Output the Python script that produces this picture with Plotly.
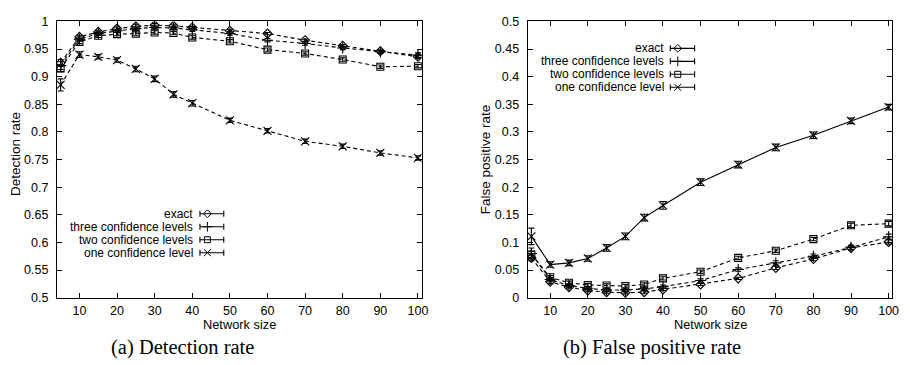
import plotly.graph_objects as go

# ---------------- data ----------------
sizes = [5, 10, 15, 20, 25, 30, 35, 40, 50, 60, 70, 80, 90, 100]
series_names = ["exact", "three confidence levels", "two confidence levels", "one confidence level"]

det_exact = [0.925, 0.972, 0.981, 0.987, 0.991, 0.993, 0.992, 0.989, 0.983, 0.978, 0.966, 0.956, 0.946, 0.936]
det_three = [0.920, 0.968, 0.978, 0.983, 0.987, 0.989, 0.988, 0.985, 0.978, 0.966, 0.960, 0.952, 0.945, 0.939]
det_two = [0.915, 0.963, 0.974, 0.977, 0.978, 0.980, 0.979, 0.971, 0.964, 0.949, 0.942, 0.931, 0.918, 0.919]
det_one = [0.885, 0.940, 0.936, 0.930, 0.914, 0.896, 0.868, 0.852, 0.821, 0.802, 0.783, 0.774, 0.762, 0.753]

det_exact_err = [0.006, 0.003, 0.003, 0.003, 0.003, 0.003, 0.003, 0.002, 0.002, 0.002, 0.002, 0.002, 0.002, 0.003]
det_three_err = [0.007, 0.004, 0.003, 0.003, 0.003, 0.003, 0.003, 0.003, 0.003, 0.003, 0.003, 0.003, 0.003, 0.004]
det_two_err = [0.006, 0.003, 0.003, 0.003, 0.003, 0.003, 0.003, 0.003, 0.003, 0.003, 0.003, 0.003, 0.003, 0.003]
det_one_err = [0.011, 0.005, 0.004, 0.004, 0.005, 0.005, 0.005, 0.005, 0.004, 0.004, 0.004, 0.004, 0.004, 0.004]

fp_exact = [0.072, 0.029, 0.019, 0.013, 0.010, 0.009, 0.010, 0.015, 0.024, 0.035, 0.054, 0.070, 0.090, 0.101]
fp_three = [0.080, 0.033, 0.022, 0.017, 0.014, 0.014, 0.016, 0.020, 0.031, 0.051, 0.063, 0.075, 0.091, 0.110]
fp_two = [0.078, 0.037, 0.027, 0.023, 0.022, 0.021, 0.024, 0.035, 0.047, 0.072, 0.085, 0.106, 0.131, 0.134]
fp_one = [0.111, 0.060, 0.063, 0.071, 0.090, 0.111, 0.145, 0.167, 0.209, 0.241, 0.272, 0.294, 0.320, 0.345]

fp_exact_err = [0.005, 0.003, 0.002, 0.002, 0.002, 0.002, 0.002, 0.002, 0.002, 0.002, 0.003, 0.003, 0.003, 0.004]
fp_three_err = [0.010, 0.003, 0.003, 0.003, 0.003, 0.003, 0.003, 0.003, 0.003, 0.003, 0.004, 0.004, 0.004, 0.005]
fp_two_err = [0.006, 0.003, 0.003, 0.003, 0.003, 0.003, 0.003, 0.003, 0.003, 0.003, 0.003, 0.003, 0.004, 0.004]
fp_one_err = [0.015, 0.005, 0.005, 0.005, 0.006, 0.006, 0.006, 0.007, 0.006, 0.006, 0.006, 0.006, 0.005, 0.005]

x_ticks = [10, 20, 30, 40, 50, 60, 70, 80, 90, 100]
det_ticks = [0.5, 0.55, 0.6, 0.65, 0.7, 0.75, 0.8, 0.85, 0.9, 0.95, 1.0]
det_tick_text = ["0.5", "0.55", "0.6", "0.65", "0.7", "0.75", "0.8", "0.85", "0.9", "0.95", "1"]
fp_ticks = [0, 0.05, 0.1, 0.15, 0.2, 0.25, 0.3, 0.35, 0.4, 0.45, 0.5]
fp_tick_text = ["0", "0.05", "0.1", "0.15", "0.2", "0.25", "0.3", "0.35", "0.4", "0.45", "0.5"]

# ---------------- style ----------------
W, H = 910, 365
SANS = "Liberation Sans, Arial, Helvetica, sans-serif"
SERIF = "Liberation Serif, Times New Roman, serif"
symbols = ["diamond-open", "cross-thin-open", "square-open", "x-thin-open"]
msizes = [7, 8, 7, 8]
left_dash = ["4px,3px", "4px,3px", "4px,3px", "4px,3px"]
right_dash = ["4px,3px", "4px,3px", "4px,3px", "solid"]

fig = go.Figure()


def add_series(xa, ya, ys, errs, dashes):
    for i in range(4):
        fig.add_trace(go.Scatter(
            x=sizes, y=ys[i], mode="lines+markers", xaxis=xa, yaxis=ya,
            name=series_names[i], showlegend=False,
            line=dict(color="black", width=1.1, dash=dashes[i]),
            marker=dict(symbol=symbols[i], size=msizes[i], color="black",
                        line=dict(color="black", width=1.1)),
            error_y=dict(type="data", array=errs[i], visible=True,
                         color="black", thickness=1.1, width=3),
        ))


add_series("x", "y", [det_exact, det_three, det_two, det_one],
           [det_exact_err, det_three_err, det_two_err, det_one_err], left_dash)
add_series("x2", "y2", [fp_exact, fp_three, fp_two, fp_one],
           [fp_exact_err, fp_three_err, fp_two_err, fp_one_err], right_dash)

# ---------------- manual gnuplot-style keys (pixel coordinates on aux axes) ----------------
key_layout = [
    dict(text_x=195, cap_l=201.5, mark_x=209, cap_r=225.5, y0=215, dy=13.5),
    dict(text_x=670, cap_l=675.5, mark_x=683, cap_r=700, y0=43, dy=13.5),
]
annotations = []
for k in key_layout:
    for i in range(4):
        yy = k["y0"] + i * k["dy"]
        fig.add_trace(go.Scatter(
            x=[k["mark_x"]], y=[yy], mode="markers", xaxis="x3", yaxis="y3",
            showlegend=False, hoverinfo="skip",
            marker=dict(symbol=symbols[i], size=msizes[i] - 1, color="black",
                        line=dict(color="black", width=1)),
            error_x=dict(type="data", symmetric=False,
                         array=[k["cap_r"] - k["mark_x"]],
                         arrayminus=[k["mark_x"] - k["cap_l"]],
                         color="black", thickness=1.1, width=3),
        ))
        annotations.append(dict(x=k["text_x"], y=yy, xref="x3", yref="y3",
                                text=series_names[i], showarrow=False,
                                xanchor="right", yanchor="middle", borderpad=0,
                                font=dict(family=SANS, size=12, color="black")))

annotations += [
    dict(x=15, y=153, xref="x3", yref="y3", text="Detection rate", textangle=-90,
         showarrow=False, font=dict(family=SANS, size=13.5, color="black")),
    dict(x=490, y=158, xref="x3", yref="y3", text="False positive rate", textangle=-90,
         showarrow=False, font=dict(family=SANS, size=13.5, color="black")),
    dict(x=241, y=330, xref="x3", yref="y3", text="Network size",
         showarrow=False, font=dict(family=SANS, size=12.8, color="black")),
    dict(x=715.5, y=330, xref="x3", yref="y3", text="Network size",
         showarrow=False, font=dict(family=SANS, size=12.8, color="black")),
    dict(x=183.5, y=354, xref="x3", yref="y3", text="(a) Detection rate",
         showarrow=False, font=dict(family=SERIF, size=20.5, color="black")),
    dict(x=657, y=354, xref="x3", yref="y3", text="(b) False positive rate",
         showarrow=False, font=dict(family=SERIF, size=20.5, color="black")),
]

ydom = [1 - 302.3 / H, 1 - 15 / H]
common_axis = dict(showline=True, linecolor="black", linewidth=1, mirror="allticks",
                   ticks="inside", ticklen=5, tickwidth=1, tickcolor="black",
                   showgrid=False, zeroline=False, ticklabeloverflow="allow",
                   tickfont=dict(family=SANS, size=12.5, color="black"))

fig.update_layout(
    width=W, height=H,
    margin=dict(l=0, r=0, t=0, b=0),
    paper_bgcolor="white", plot_bgcolor="rgba(0,0,0,0)",
    showlegend=False,
    xaxis=dict(domain=[57.3 / W, 425 / W], range=[4, 101], tickvals=x_ticks,
               anchor="y", ticklabelstandoff=1, **common_axis),
    yaxis=dict(domain=ydom, range=[0.5, 1.0], tickvals=det_ticks, ticktext=det_tick_text,
               anchor="x", ticklabelstandoff=5, **common_axis),
    xaxis2=dict(domain=[531.7 / W, 899.3 / W], range=[4, 101], tickvals=x_ticks,
                anchor="y2", ticklabelstandoff=1, **common_axis),
    yaxis2=dict(domain=ydom, range=[0, 0.5], tickvals=fp_ticks, ticktext=fp_tick_text,
                anchor="x2", ticklabelstandoff=5, **common_axis),
    xaxis3=dict(domain=[0, 1], range=[0, W], visible=False, fixedrange=True, anchor="y3"),
    yaxis3=dict(domain=[0, 1], range=[H, 0], visible=False, fixedrange=True, anchor="x3"),
    annotations=annotations,
)

fig.write_html("out.html", config={"displayModeBar": False},
               post_script="document.body.style.margin='0';")
